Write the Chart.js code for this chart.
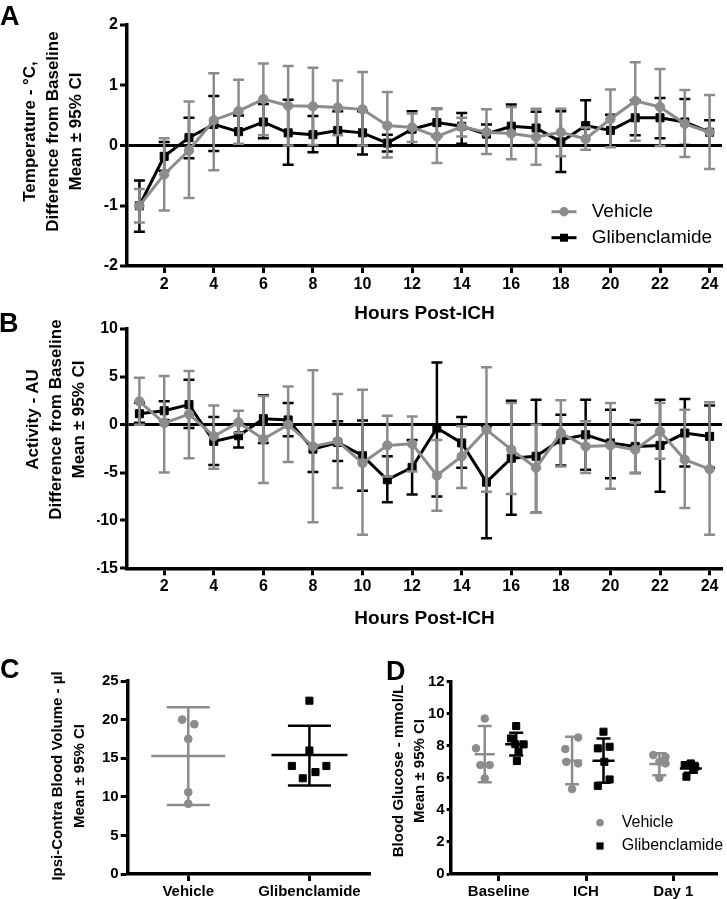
<!DOCTYPE html>
<html>
<head>
<meta charset="utf-8">
<script src="https://cdn.jsdelivr.net/npm/chart.js@4.4.0/dist/chart.umd.min.js"></script>
<style>
  body { margin:0; background:#fff; }
  #fig { position:relative; width:727px; height:899px; overflow:hidden; font-family:"Liberation Sans", Arial, sans-serif; color:#000; }
  canvas { position:absolute; }
  .letter { position:absolute; font-weight:bold; font-size:27px; line-height:27px; }
  .ytitle { position:absolute; width:320px; text-align:center; font-weight:bold; transform:rotate(-90deg); white-space:nowrap; }
</style>
</head>
<body>
<div id="fig">
  <canvas id="cA" width="727" height="325" style="left:0;top:0"></canvas>
  <canvas id="cB" width="727" height="325" style="left:0;top:305px"></canvas>
  <canvas id="cC" width="380" height="269" style="left:0;top:630px"></canvas>
  <canvas id="cD" width="347" height="269" style="left:380px;top:630px"></canvas>

  <div class="letter" style="left:0;top:3px">A</div>
  <div class="letter" style="left:-1px;top:310px">B</div>
  <div class="letter" style="left:0;top:656px">C</div>
  <div class="letter" style="left:386px;top:658px">D</div>

  <div class="ytitle" style="left:-108px;top:97px;height:69px;font-size:17px;line-height:23px">Temperature - °C,<br>Difference from Baseline<br>Mean ± 95% CI</div>
  <div class="ytitle" style="left:-105px;top:385px;height:69px;font-size:17px;line-height:23px">Activity - AU<br>Difference from Baseline<br>Mean ± 95% CI</div>
  <div class="ytitle" style="left:-92px;top:754px;height:44px;font-size:15px;line-height:22px">Ipsi-Contra Blood Volume - µl<br>Mean ± 95% CI</div>
  <div class="ytitle" style="left:248px;top:750px;height:42px;font-size:15px;line-height:21px">Blood Glucose - mmol/L<br>Mean ± 95% CI</div>
</div>

<script>
// ---- data ----
const seriesNames = ["Vehicle", "Glibenclamide"];
const hours = [1,2,3,4,5,6,7,8,9,10,11,12,13,14,15,16,17,18,19,20,21,22,23,24];
const hourTicks = [2,4,6,8,10,12,14,16,18,20,22,24];

// A: temperature difference from baseline
const tempVehicle   = [-1.00,-0.48,-0.08,0.42,0.57,0.77,0.66,0.65,0.63,0.60,0.33,0.30,0.15,0.31,0.22,0.20,0.14,0.22,0.11,0.44,0.74,0.64,0.36,0.22];
const tempVehicleLo = [-1.28,-1.08,-0.87,-0.41,0.03,0.17,0.00,0.01,0.17,0.00,-0.20,0.06,-0.29,0.15,-0.14,-0.23,-0.32,-0.18,-0.07,-0.03,0.08,-0.01,-0.19,-0.39];
const tempVehicleHi = [-0.72,0.12,0.73,1.20,1.09,1.36,1.32,1.29,1.08,1.22,0.89,0.53,0.60,0.46,0.60,0.64,0.61,0.61,0.30,0.93,1.38,1.27,0.92,0.84];
const tempGlib   = [-1.00,-0.18,0.13,0.35,0.23,0.39,0.21,0.18,0.25,0.21,0.04,0.27,0.38,0.32,0.19,0.32,0.29,0.06,0.33,0.25,0.46,0.46,0.39,0.22];
const tempGlibLo = [-1.43,-0.42,-0.21,-0.09,0.00,0.12,-0.32,-0.11,0.00,-0.15,-0.10,0.00,0.15,0.03,0.00,0.00,0.01,-0.44,0.00,0.00,0.17,0.12,0.01,0.00];
const tempGlibHi = [-0.58,0.06,0.46,0.82,0.50,0.69,0.76,0.49,0.57,0.57,0.18,0.57,0.61,0.54,0.35,0.68,0.56,0.57,0.75,0.51,0.75,0.79,0.77,0.42];

// B: activity difference from baseline
const actVehicle   = [2.44,0.17,1.10,-1.20,0.24,-1.50,0.00,-2.27,-1.74,-4.00,-2.16,-2.00,-5.30,-3.30,-0.52,-2.60,-4.50,-0.87,-2.27,-2.16,-2.60,-0.70,-3.66,-4.64];
const actVehicleLo = [0.00,-5.00,-3.50,-4.60,-0.87,-6.10,-3.90,-10.20,-6.60,-11.50,-5.40,-4.90,-9.00,-6.60,-7.00,-7.25,-9.20,-4.36,-5.05,-6.70,-5.05,-3.56,-8.70,-11.50];
const actVehicleHi = [4.90,5.10,5.60,2.00,1.46,3.00,4.00,5.70,3.20,3.66,0.94,0.87,-1.60,-0.17,6.00,2.27,0.00,2.55,0.35,2.27,0.17,2.27,1.57,2.34];
const actGlib   = [1.15,1.46,2.10,-1.74,-1.15,0.63,0.50,-2.55,-1.85,-3.24,-5.75,-4.46,-0.35,-1.90,-6.00,-3.50,-3.30,-1.57,-1.05,-1.90,-2.27,-2.16,-0.87,-1.22];
const actGlibLo = [0.20,0.50,-0.35,-4.20,-2.37,-1.90,-1.20,-4.95,-3.80,-6.90,-8.10,-7.30,-7.50,-4.50,-11.85,-9.40,-9.20,-4.25,-4.70,-5.60,-5.05,-7.00,-4.36,-4.50];
const actGlibHi = [2.30,2.44,4.70,0.80,0.07,3.07,2.27,0.00,0.35,0.45,-3.30,-1.60,6.50,0.80,-0.15,2.50,2.60,1.05,2.60,1.57,0.50,2.60,2.70,2.00];

// C: ipsi-contra blood volume (ul), individual animals
const volGroups = ["Vehicle", "Glibenclamide"];
const volVehicle = [20.0, 19.4, 17.5, 10.6, 9.1];
const volVehicleJitter = [-0.05, 0.05, 0, 0, 0];
const volGlib = [22.45, 16.0, 14.0, 14.0, 13.2, 12.4];
const volGlibJitter = [0, 0, -0.145, 0.14, 0.05, -0.055];
const volMean = [15.3, 15.4];
const volLo = [8.95, 11.45];
const volHi = [21.6, 19.2];

// D: blood glucose (mmol/L)
const gluTimes = ["Baseline", "ICH", "Day 1"];
const gluVehicle = [[9.70,7.84,6.80,6.80,5.97],[8.52,7.80,7.00,6.90,5.30],[7.42,7.30,7.00,6.90,6.00]];
const gluVehicleJitter = [[0,-0.10,-0.05,0.057,0],[0.07,-0.077,-0.065,0.07,0],[-0.07,0.07,0,0.07,0]];
const gluGlib = [[9.23,8.46,8.10,8.09,7.63,7.05],[8.88,7.94,7.84,7.00,5.90,5.50],[6.90,6.80,6.75,6.70,6.50,6.07]];
const gluGlibJitter = [[0,-0.06,-0.01,0.085,0.027,0.008],[0,0.07,-0.065,0.01,0.07,-0.065],[0,-0.07,0.04,0.05,0.03,-0.05]];
const gluVehicleMean = [7.48, 7.07, 6.86];
const gluVehicleLo = [5.72, 5.60, 6.17];
const gluVehicleHi = [9.23, 8.57, 7.53];
const gluGlibMean = [8.10, 7.07, 6.59];
const gluGlibLo = [7.40, 5.70, 6.32];
const gluGlibHi = [8.81, 8.46, 6.90];
const gluOffset = [-0.16, 0.2];

// ---- style ----
const GREY = "#8c8c8c";
const BLACK = "#000000";
const FONT = '"Liberation Sans", Arial, sans-serif';
Chart.defaults.font.family = FONT;
Chart.defaults.color = "#000";

// error bars drawn under each dataset, through the y scale
const errorBarPlugin = {
  id: "errorBars",
  beforeDatasetDraw(chart, args) {
    const eb = chart.data.datasets[args.index].errorBars;
    if (!eb) return;
    const y = chart.scales.y, ctx = chart.ctx;
    ctx.save();
    ctx.strokeStyle = eb.color;
    ctx.lineWidth = eb.width;
    args.meta.data.forEach((pt, i) => {
      const top = y.getPixelForValue(eb.hi[i]);
      const bot = y.getPixelForValue(eb.lo[i]);
      ctx.beginPath();
      ctx.moveTo(pt.x, top); ctx.lineTo(pt.x, bot);
      ctx.moveTo(pt.x - eb.cap, top); ctx.lineTo(pt.x + eb.cap, top);
      ctx.moveTo(pt.x - eb.cap, bot); ctx.lineTo(pt.x + eb.cap, bot);
      ctx.stroke();
    });
    ctx.restore();
  }
};

// small legend inside the plot
const insetLegend = {
  id: "insetLegend",
  afterDraw(chart, args, o) {
    if (!o || !o.items) return;
    const ctx = chart.ctx;
    ctx.save();
    ctx.font = o.font;
    ctx.textBaseline = "middle";
    ctx.textAlign = "left";
    o.items.forEach((it, i) => {
      const y = o.y + i * o.rowGap;
      if (o.lineHalf) {
        ctx.strokeStyle = it.color; ctx.lineWidth = 3;
        ctx.beginPath(); ctx.moveTo(o.x - o.lineHalf, y); ctx.lineTo(o.x + o.lineHalf, y); ctx.stroke();
      }
      ctx.fillStyle = it.color;
      if (it.shape === "circle") {
        ctx.beginPath(); ctx.arc(o.x, y, it.size, 0, Math.PI * 2); ctx.fill();
      } else {
        ctx.fillRect(o.x - it.size, y - it.size, it.size * 2, it.size * 2);
      }
      ctx.fillStyle = "#000";
      ctx.fillText(it.label, o.textX, y);
    });
    ctx.restore();
  }
};

function baseAxis(size, tickLen) {
  return {
    border: { color: "#000", width: 3.5 },
    grid: { drawOnChartArea: false, tickLength: tickLen || 7, tickWidth: 3, tickColor: "#000" },
    ticks: { color: "#000", font: { size: size, weight: "bold" }, padding: 2, autoSkip: false, maxRotation: 0 }
  };
}

// fixed axis size, no extra label padding pushed into the layout
function fixWidth(w) {
  return s => { s.width = w; s.paddingTop = 0; s.paddingBottom = 0; };
}
function fixHeight(h) {
  return s => { s.height = h; s.paddingLeft = 0; s.paddingRight = 0; };
}

function zeroLineY(min, max, step, width) {
  const ax = baseAxis(16);
  ax.min = min; ax.max = max;
  ax.ticks.stepSize = step;
  ax.grid = {
    drawOnChartArea: true, tickLength: 7, tickWidth: 3, tickColor: "#000",
    color: c => (c.tick && c.tick.value === 0) ? "#000" : "rgba(0,0,0,0)",
    lineWidth: c => (c.tick && c.tick.value === 0) ? 3 : 0
  };
  ax.afterFit = fixWidth(width);
  return ax;
}

function hourAxis(height) {
  const ax = baseAxis(16);
  ax.type = "linear";
  ax.min = 0.5; ax.max = 24.5;
  ax.afterBuildTicks = s => { s.ticks = hourTicks.map(v => ({ value: v })); };
  ax.title = { display: true, text: "Hours Post-ICH", font: { size: 19, weight: "bold" }, color: "#000", padding: 0 };
  ax.afterFit = fixHeight(height);
  return ax;
}

function lineSet(name, vals, lo, hi, color, shape) {
  return {
    label: name,
    data: hours.map((h, i) => ({ x: h, y: vals[i] })),
    borderColor: color, backgroundColor: color, borderWidth: 3, tension: 0,
    pointStyle: shape === "circle" ? "circle" : "rect",
    pointRadius: shape === "circle" ? 4.7 : 5.7,
    pointBackgroundColor: color, pointBorderColor: color, pointBorderWidth: 1,
    errorBars: { lo: lo, hi: hi, color: color, width: 2.5, cap: 5.5 }
  };
}

const common = { responsive: false, animation: false, events: [] };

// ---- A ----
new Chart(document.getElementById("cA"), {
  type: "line",
  data: { datasets: [
    lineSet(seriesNames[0], tempVehicle, tempVehicleLo, tempVehicleHi, GREY, "circle"),
    lineSet(seriesNames[1], tempGlib, tempGlibLo, tempGlibHi, BLACK, "rect")
  ]},
  plugins: [errorBarPlugin, insetLegend],
  options: Object.assign({}, common, {
    layout: { autoPadding: false, padding: { left: 97, right: 5, top: 25, bottom: 0 } },
    scales: { x: hourAxis(59), y: zeroLineY(-2, 2, 1, 30) },
    plugins: {
      legend: { display: false }, tooltip: { enabled: false },
      insetLegend: { x: 564, y: 211.7, rowGap: 26, lineHalf: 12.5, textX: 591.7, font: "19px " + FONT,
        items: [ { label: seriesNames[0], color: GREY, shape: "circle", size: 4.7 },
                 { label: seriesNames[1], color: BLACK, shape: "rect", size: 4 } ] }
    }
  })
});

// ---- B ----
new Chart(document.getElementById("cB"), {
  type: "line",
  data: { datasets: [
    lineSet(seriesNames[0], actVehicle, actVehicleLo, actVehicleHi, GREY, "circle"),
    lineSet(seriesNames[1], actGlib, actGlibLo, actGlibHi, BLACK, "rect")
  ]},
  plugins: [errorBarPlugin],
  options: Object.assign({}, common, {
    layout: { autoPadding: false, padding: { left: 97, right: 5, top: 24, bottom: 0 } },
    scales: { x: hourAxis(61.7), y: zeroLineY(-15, 10, 5, 30) },
    plugins: { legend: { display: false }, tooltip: { enabled: false } }
  })
});

// ---- C ----
function dotSet(vals, jitter, center, color, shape, r) {
  return {
    data: vals.map((v, i) => ({ x: center + jitter[i], y: v })),
    pointStyle: shape, pointRadius: r, pointBackgroundColor: color, pointBorderColor: color, pointBorderWidth: 1
  };
}
function meanSet(xs, means, lo, hi, color, half, cap) {
  return {
    data: means.map((m, i) => ({ x: xs[i], y: m })),
    pointStyle: "line", pointRadius: half, pointBorderColor: color, pointBorderWidth: 2.5,
    errorBars: { lo: lo, hi: hi, color: color, width: 2.5, cap: cap }
  };
}
function catAxis(labels, min, max, height) {
  const ax = baseAxis(15);
  ax.type = "linear"; ax.min = min; ax.max = max;
  ax.afterBuildTicks = s => { s.ticks = labels.map((l, i) => ({ value: i })); };
  ax.ticks.callback = v => labels[v];
  ax.afterFit = fixHeight(height);
  return ax;
}
function plainY(min, max, step, width, tickLen) {
  const ax = baseAxis(15, tickLen);
  ax.min = min; ax.max = max; ax.ticks.stepSize = step;
  ax.afterFit = fixWidth(width);
  return ax;
}

new Chart(document.getElementById("cC"), {
  type: "scatter",
  data: { datasets: [
    dotSet(volVehicle, volVehicleJitter, 0, GREY, "circle", 3.9),
    dotSet(volGlib, volGlibJitter, 1, BLACK, "rect", 5),
    meanSet([0], [volMean[0]], [volLo[0]], [volHi[0]], GREY, 37, 21.5),
    meanSet([1], [volMean[1]], [volLo[1]], [volHi[1]], BLACK, 38, 21.5)
  ]},
  plugins: [errorBarPlugin],
  options: Object.assign({}, common, {
    layout: { autoPadding: false, padding: { left: 97.7, right: 10, top: 51, bottom: 0 } },
    scales: { x: catAxis(volGroups, -0.5, 1.5, 25), y: plainY(0, 25, 5, 30, 7) },
    plugins: { legend: { display: false }, tooltip: { enabled: false } }
  })
});

// ---- D ----
function gluDots(vals, jitter, off, color, shape, r) {
  const pts = [];
  vals.forEach((grp, t) => grp.forEach((v, i) => pts.push({ x: t + off + jitter[t][i], y: v })));
  return { data: pts, pointStyle: shape, pointRadius: r, pointBackgroundColor: color, pointBorderColor: color, pointBorderWidth: 1 };
}
new Chart(document.getElementById("cD"), {
  type: "scatter",
  data: { datasets: [
    gluDots(gluVehicle, gluVehicleJitter, gluOffset[0], GREY, "circle", 3.8),
    gluDots(gluGlib, gluGlibJitter, gluOffset[1], BLACK, "rect", 5),
    meanSet(gluTimes.map((t, i) => i + gluOffset[0]), gluVehicleMean, gluVehicleLo, gluVehicleHi, GREY, 10, 7),
    meanSet(gluTimes.map((t, i) => i + gluOffset[1]), gluGlibMean, gluGlibLo, gluGlibHi, BLACK, 11, 7)
  ]},
  plugins: [errorBarPlugin, insetLegend],
  options: Object.assign({}, common, {
    layout: { autoPadding: false, padding: { left: 40.7, right: 10, top: 51.7, bottom: 0 } },
    scales: { x: catAxis(gluTimes, -0.55, 2.5, 25), y: plainY(0, 12, 2, 30, 4) },
    plugins: {
      legend: { display: false }, tooltip: { enabled: false },
      insetLegend: { x: 220, y: 192.7, rowGap: 23.3, lineHalf: 0, textX: 241.7, font: "16px " + FONT,
        items: [ { label: seriesNames[0], color: GREY, shape: "circle", size: 3.8 },
                 { label: seriesNames[1], color: BLACK, shape: "rect", size: 3.6 } ] }
    }
  })
});
</script>
</body>
</html>
